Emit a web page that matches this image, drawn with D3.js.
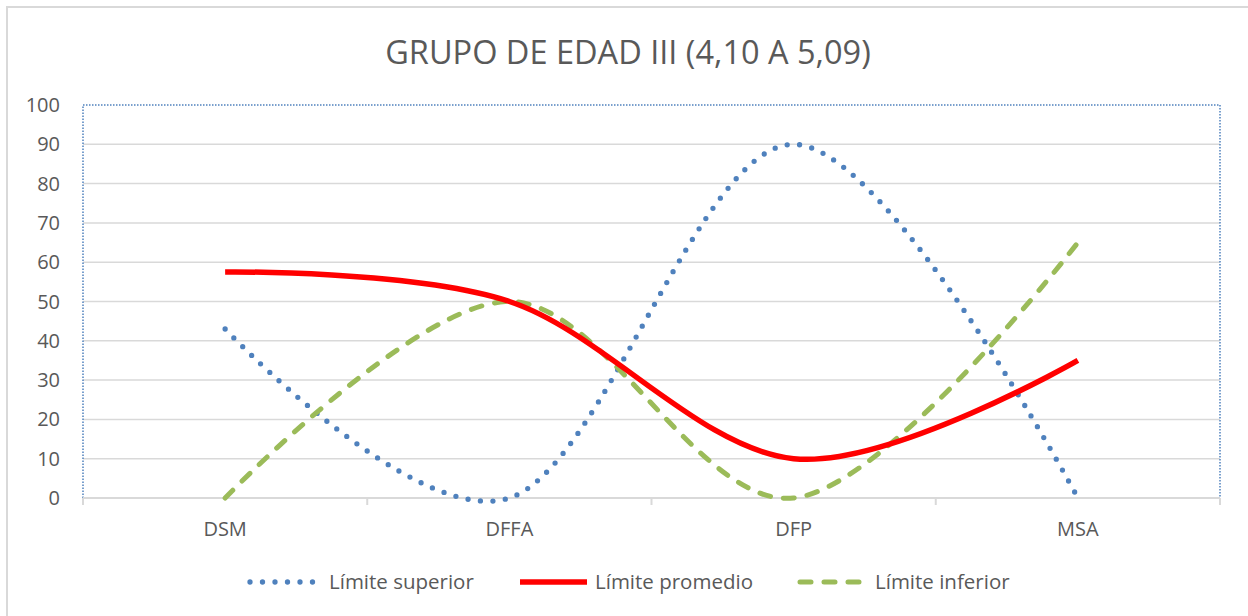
<!DOCTYPE html>
<html>
<head>
<meta charset="utf-8">
<script src="https://cdn.jsdelivr.net/npm/d3@7"></script>
<style>
  body { margin: 0; background: #fff; }
  svg text { font-family: "Open Sans", "Noto Sans", sans-serif; fill: #595959; }
</style>
</head>
<body>
<div id="wrapper"></div>
<script>
const categories = ["DSM", "DFFA", "DFP", "MSA"];
const limiteSuperior = [43, 0, 90, 0];
const limitePromedio = [57.5, 50, 10, 35];
const limiteInferior = [0, 50, 0, 65];
const yTicks = [0, 10, 20, 30, 40, 50, 60, 70, 80, 90, 100];

const seriesList = [
  { name: "Límite superior", values: limiteSuperior },
  { name: "Límite promedio", values: limitePromedio },
  { name: "Límite inferior", values: limiteInferior },
];

function drawChart() {
  const width = 1248;
  const height = 616;
  const margin = { top: 105, right: 28, bottom: 118, left: 83 };
  const boundedWidth = width - margin.left - margin.right;
  const boundedHeight = height - margin.top - margin.bottom;

  const styles = [
    { stroke: "#4f81bd", width: 5.3, dash: "0 12.5", cap: "round" },
    { stroke: "#ff0000", width: 5.5, dash: null, cap: "butt" },
    { stroke: "#9bbb59", width: 5, dash: "11 13", cap: "round" },
  ];

  const svg = d3.select("#wrapper").append("svg")
    .attr("width", width).attr("height", height);

  // marco exterior
  svg.append("rect")
    .attr("x", 7).attr("y", 7)
    .attr("width", width + 10).attr("height", height + 10)
    .attr("fill", "none").attr("stroke", "#d9d9d9").attr("stroke-width", 2);

  svg.append("text")
    .attr("x", 628).attr("y", 64)
    .attr("text-anchor", "middle")
    .style("font-size", "32.5px")
    .text("GRUPO DE EDAD III (4,10 A 5,09)");

  const bounds = svg.append("g")
    .attr("transform", `translate(${margin.left},${margin.top})`);

  const xScale = d3.scaleBand().domain(categories).range([0, boundedWidth]);
  const yScale = d3.scaleLinear().domain([0, 100]).range([boundedHeight, 0]);

  // rejilla
  bounds.selectAll(".grid").data(yTicks.filter(d => d > 0 && d < 100))
    .join("line")
    .attr("x1", 0).attr("x2", boundedWidth)
    .attr("y1", d => yScale(d)).attr("y2", d => yScale(d))
    .attr("stroke", "#d9d9d9").attr("stroke-width", 1.5);

  // borde del área de trazado
  bounds.append("path")
    .attr("d", `M0,${boundedHeight}V0H${boundedWidth}V${boundedHeight}`)
    .attr("fill", "none").attr("stroke", "#4f81bd")
    .attr("stroke-width", 1.5).attr("stroke-dasharray", "1.5 1.5");

  // eje x
  bounds.append("line")
    .attr("x1", 0).attr("x2", boundedWidth)
    .attr("y1", boundedHeight).attr("y2", boundedHeight)
    .attr("stroke", "#d9d9d9").attr("stroke-width", 2);

  const bandEdges = categories.map(c => xScale(c)).concat([boundedWidth]);
  bounds.selectAll(".tick").data(bandEdges).join("line")
    .attr("x1", d => d).attr("x2", d => d)
    .attr("y1", boundedHeight).attr("y2", boundedHeight + 7)
    .attr("stroke", "#d9d9d9").attr("stroke-width", 2);

  bounds.selectAll(".xlab").data(categories).join("text")
    .attr("x", d => xScale(d) + xScale.bandwidth() / 2)
    .attr("y", boundedHeight + 38)
    .attr("text-anchor", "middle")
    .style("font-size", "20px")
    .text(d => d);

  bounds.selectAll(".ylab").data(yTicks).join("text")
    .attr("x", -23)
    .attr("y", d => yScale(d))
    .attr("dy", "0.35em")
    .attr("text-anchor", "end")
    .style("font-size", "20px")
    .text(d => d);

  // líneas
  const lineGen = d3.line()
    .x((d, i) => xScale(categories[i]) + xScale.bandwidth() / 2)
    .y(d => yScale(d))
    .curve(d3.curveCatmullRom.alpha(0));

  const drawOrder = [0, 2, 1];
  drawOrder.forEach(i => {
    const s = styles[i];
    bounds.append("path")
      .attr("d", lineGen(seriesList[i].values))
      .attr("fill", "none")
      .attr("stroke", s.stroke)
      .attr("stroke-width", s.width)
      .attr("stroke-linecap", s.cap)
      .attr("stroke-dasharray", s.dash);
  });

  // leyenda
  const legendItems = [
    { x1: 250, x2: 318, tx: 329 },
    { x1: 520, x2: 587, tx: 595 },
    { x1: 800, x2: 864, tx: 875 },
  ];
  const legendY = 582;
  legendItems.forEach((l, i) => {
    const s = styles[i];
    svg.append("line")
      .attr("x1", l.x1).attr("x2", l.x2)
      .attr("y1", legendY).attr("y2", legendY)
      .attr("stroke", s.stroke).attr("stroke-width", s.width)
      .attr("stroke-linecap", s.cap)
      .attr("stroke-dasharray", s.dash);
    svg.append("text")
      .attr("x", l.tx).attr("y", legendY)
      .attr("dy", "0.35em")
      .style("font-size", "20.5px")
      .text(seriesList[i].name);
  });
}
drawChart();
</script>
</body>
</html>
